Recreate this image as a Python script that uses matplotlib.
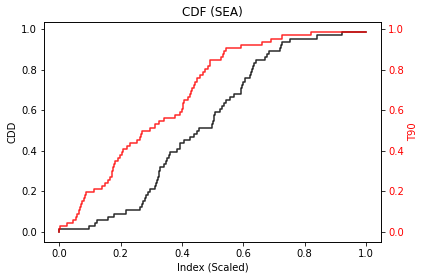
import matplotlib
matplotlib.use("Agg")
import matplotlib.pyplot as plt
import numpy as np

# scaled index values (sorted samples)
cddValues = [0.0, 0.095, 0.117, 0.122, 0.158, 0.177, 0.218, 0.264, 0.270, 0.274,
             0.278, 0.283, 0.290, 0.297, 0.312, 0.316, 0.318, 0.321, 0.324, 0.326,
             0.329, 0.340, 0.348, 0.351, 0.356, 0.362, 0.384, 0.392, 0.395, 0.405,
             0.427, 0.440, 0.448, 0.454, 0.498, 0.500, 0.503, 0.505, 0.509, 0.525,
             0.531, 0.538, 0.545, 0.558, 0.569, 0.591, 0.594, 0.596, 0.600, 0.607,
             0.623, 0.626, 0.629, 0.633, 0.636, 0.640, 0.672, 0.678, 0.683, 0.721,
             0.724, 0.727, 0.754, 0.841, 0.923, 1.0]
t90Values = [0.0, 0.003, 0.024, 0.043, 0.055, 0.059, 0.063, 0.067, 0.071, 0.075,
             0.079, 0.083, 0.087, 0.114, 0.139, 0.149, 0.158, 0.166, 0.170, 0.173,
             0.176, 0.179, 0.182, 0.190, 0.198, 0.204, 0.209, 0.222, 0.229, 0.253,
             0.262, 0.266, 0.269, 0.297, 0.312, 0.324, 0.340, 0.378, 0.392, 0.400,
             0.402, 0.404, 0.405, 0.421, 0.425, 0.429, 0.434, 0.438, 0.443, 0.449,
             0.460, 0.468, 0.476, 0.484, 0.490, 0.493, 0.528, 0.533, 0.538, 0.542,
             0.591, 0.662, 0.689, 0.727, 0.820, 1.0]


def cdf(values):
    x = np.sort(np.array(values))
    y = np.arange(len(x)) / len(x)
    return x, y


fig, ax = plt.subplots(figsize=(424 / 72, 280 / 72), dpi=72)
fig.subplots_adjust(left=0.104, right=0.899, top=0.92, bottom=0.136)

x, y = cdf(cddValues)
ax.step(x, y, color='k', alpha=0.85)
ax.set_xlabel("Index (Scaled)")
ax.set_ylabel("CDD")
ax.set_title("CDF (SEA)")

ax2 = ax.twinx()
x, y = cdf(t90Values)
ax2.step(x, y, color='r', alpha=0.85)
ax2.set_ylabel("T90", color='r')
ax2.tick_params(axis='y', labelcolor='r')

fig.savefig("out.png", dpi=72)
